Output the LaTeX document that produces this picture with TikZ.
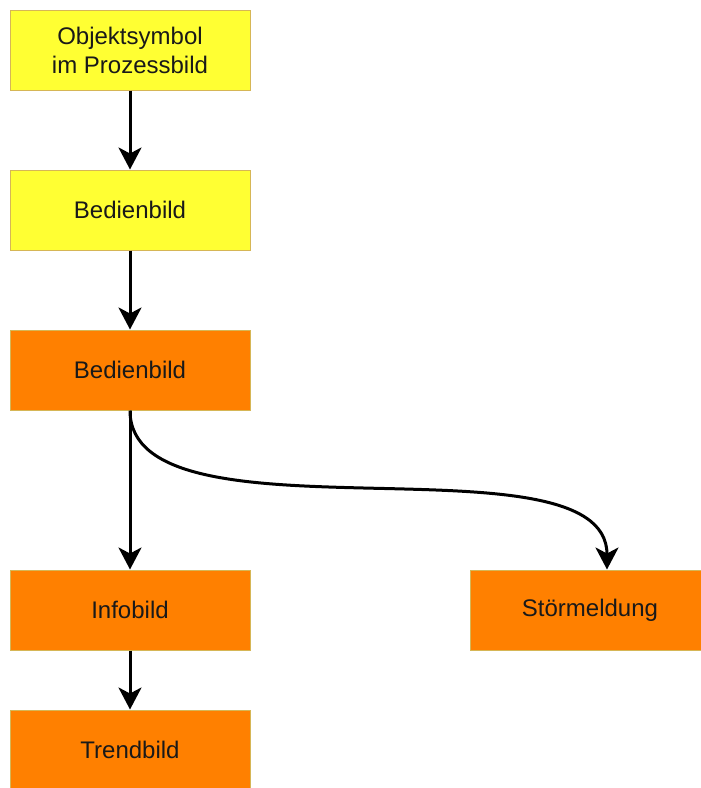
\documentclass[tikz,border=0pt]{standalone}
\usepackage{fontspec}
\setmainfont{Liberation Sans}
\usepackage{xcolor}
\usetikzlibrary{arrows.meta}
\definecolor{boxyellow}{RGB}{255,255,51}
\definecolor{boxorange}{RGB}{255,128,0}
\definecolor{edgetan}{RGB}{214,182,86}

\begin{document}
\begin{tikzpicture}[x=0.5pt,y=-0.5pt,
  yellowbox/.style={draw=edgetan, line width=0.5pt, fill=boxyellow,
    minimum width=120pt, minimum height=40pt, inner sep=0pt, align=center,
    font=\fontsize{12}{14.5}\selectfont, text=black!90},
  orangebox/.style={yellowbox, fill=boxorange},
  flow/.style={line width=1.5pt, -{Stealth[length=11pt,width=11.5pt,inset=3pt]}}]
\useasboundingbox (0,0) rectangle (701,788);

\node[yellowbox] (symbol) at (130,50) {Objektsymbol\\im Prozessbild};
\node[yellowbox] (bedien1) at (130,210) {Bedienbild};
\node[orangebox] (bedien2) at (130,370) {Bedienbild};
\node[orangebox] (info) at (130,610) {Infobild};
\node[orangebox] (trend) at (130,750) {Trendbild};
\node[orangebox] (stoer) at (590,610) {Störmeldung};

\draw [flow] (symbol) -- (bedien1);
\draw [flow] (bedien1) -- (bedien2);
\draw [flow] (bedien2) -- (info);
\draw [flow] (info) -- (trend);
\draw [flow] (bedien2.south) .. controls +(0,140) and +(0,-140) .. ([xshift=8.5pt]stoer.north);
\end{tikzpicture}
\end{document}
